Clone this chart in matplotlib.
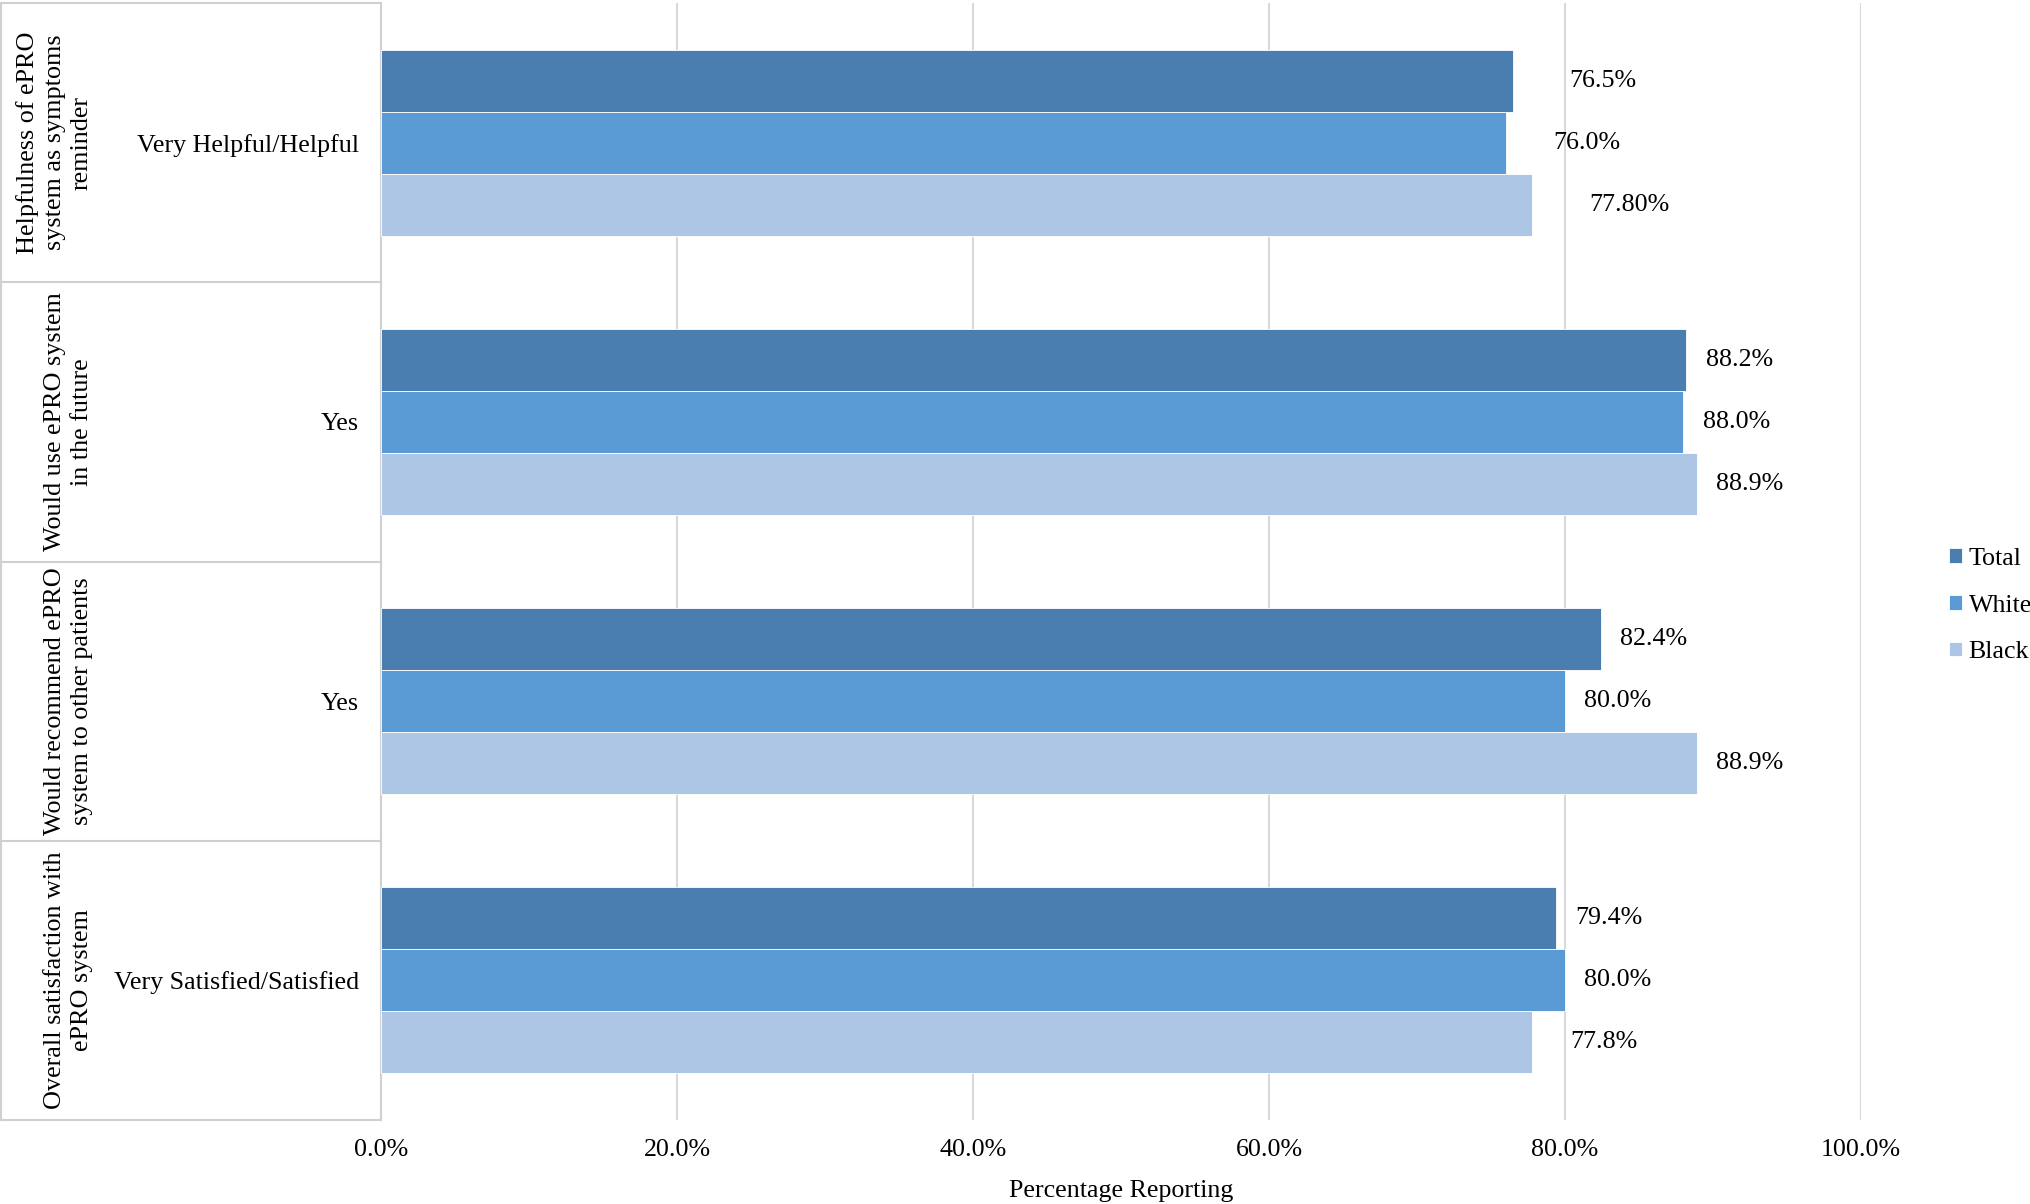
import numpy as np
import matplotlib
matplotlib.use("Agg")
import matplotlib.pyplot as plt
import matplotlib.transforms as mtransforms

plt.rcParams['font.family'] = ['Liberation Serif', 'DejaVu Serif']

# ---------------- DATA ----------------
groups = [
    "Helpfulness of ePRO\nsystem as symptoms\nreminder",
    "Would use ePRO system\nin the future",
    "Would recommend ePRO\nsystem to other patients",
    "Overall satisfaction with\nePRO system",
]
answers = ["Very Helpful/Helpful", "Yes", "Yes", "Very Satisfied/Satisfied"]

series = ["Total", "White", "Black"]
total = [76.5, 88.2, 82.4, 79.4]
white = [76.0, 88.0, 80.0, 80.0]
black = [77.8, 88.9, 88.9, 77.8]

total_labels = ["76.5%", "88.2%", "82.4%", "79.4%"]
white_labels = ["76.0%", "88.0%", "80.0%", "80.0%"]
black_labels = ["77.80%", "88.9%", "88.9%", "77.8%"]

colors = ["#4a7eb0", "#5b9bd5", "#adc6e6"]

# label gap from bar end (points), the first group labels were moved in the original
label_gap = [
    [40, 14, 14, 14],
    [34, 14, 14, 14],
    [41, 14, 14, 27],
]

FS = 18.7

# ---------------- FIGURE ----------------
fig = plt.figure(figsize=(20.31, 12.04), dpi=100)
ax = fig.add_axes([381 / 2031, 1 - 1120 / 1204, 1480 / 2031, (1120 - 3) / 1204])

y = np.arange(len(groups))
h = 1 / 4.5
values = [total, white, black]
labels = [total_labels, white_labels, black_labels]

for i, (vals, col) in enumerate(zip(values, colors)):
    pos = y + (i - 1) * h
    ax.barh(pos, vals, height=h, color=col, edgecolor="white", linewidth=0.6,
            label=series[i], zorder=3)
    for j, v in enumerate(vals):
        ax.annotate(labels[i][j], xy=(v, pos[j]), xytext=(label_gap[i][j], 0),
                    textcoords="offset points", ha="left", va="center",
                    fontsize=FS, color="black")

ax.set_ylim(len(groups) - 0.5, -0.5)
ax.set_xlim(0, 100)
ax.set_xticks(np.arange(0, 101, 20))
ax.set_xticklabels([f"{t:.1f}%" for t in np.arange(0, 101, 20)], fontsize=FS)
ax.tick_params(axis="x", length=0, pad=14)
ax.set_yticks(y)
ax.set_yticklabels(answers, fontsize=FS)
ax.tick_params(axis="y", length=0, pad=16)
ax.set_xlabel("Percentage Reporting", fontsize=FS, labelpad=13)

ax.grid(axis="x", color="#d9d9d9", linewidth=1.5, zorder=0)
for s in ["top", "right", "bottom"]:
    ax.spines[s].set_visible(False)
ax.spines["left"].set_color("#d0d0d0")
ax.spines["left"].set_linewidth(1.5)

# multi-level category frame on the left
trans = mtransforms.blended_transform_factory(ax.transAxes, ax.transData)
x_left = -380 / 1480
for b in np.arange(-0.5, len(groups), 1.0):
    ax.plot([x_left, 0], [b, b], transform=trans, color="#d0d0d0",
            linewidth=1.5, clip_on=False)
ax.plot([x_left, x_left], [-0.5, len(groups) - 0.5], transform=trans,
        color="#d0d0d0", linewidth=1.5, clip_on=False)

for j, g in enumerate(groups):
    ax.text(-(381 - 93) / 1480, y[j], g, transform=trans, rotation=90,
            ha="right", va="center", fontsize=18.8, multialignment="center",
            linespacing=1.3)

# legend
ax.legend(loc="center left", bbox_to_anchor=(1949 / 2031, 0.497),
          bbox_transform=fig.transFigure, frameon=False, fontsize=FS,
          handlelength=0.5, handleheight=0.5, handletextpad=0.25,
          labelspacing=0.95, borderpad=0, borderaxespad=0)

fig.savefig("out.png", dpi=100)
